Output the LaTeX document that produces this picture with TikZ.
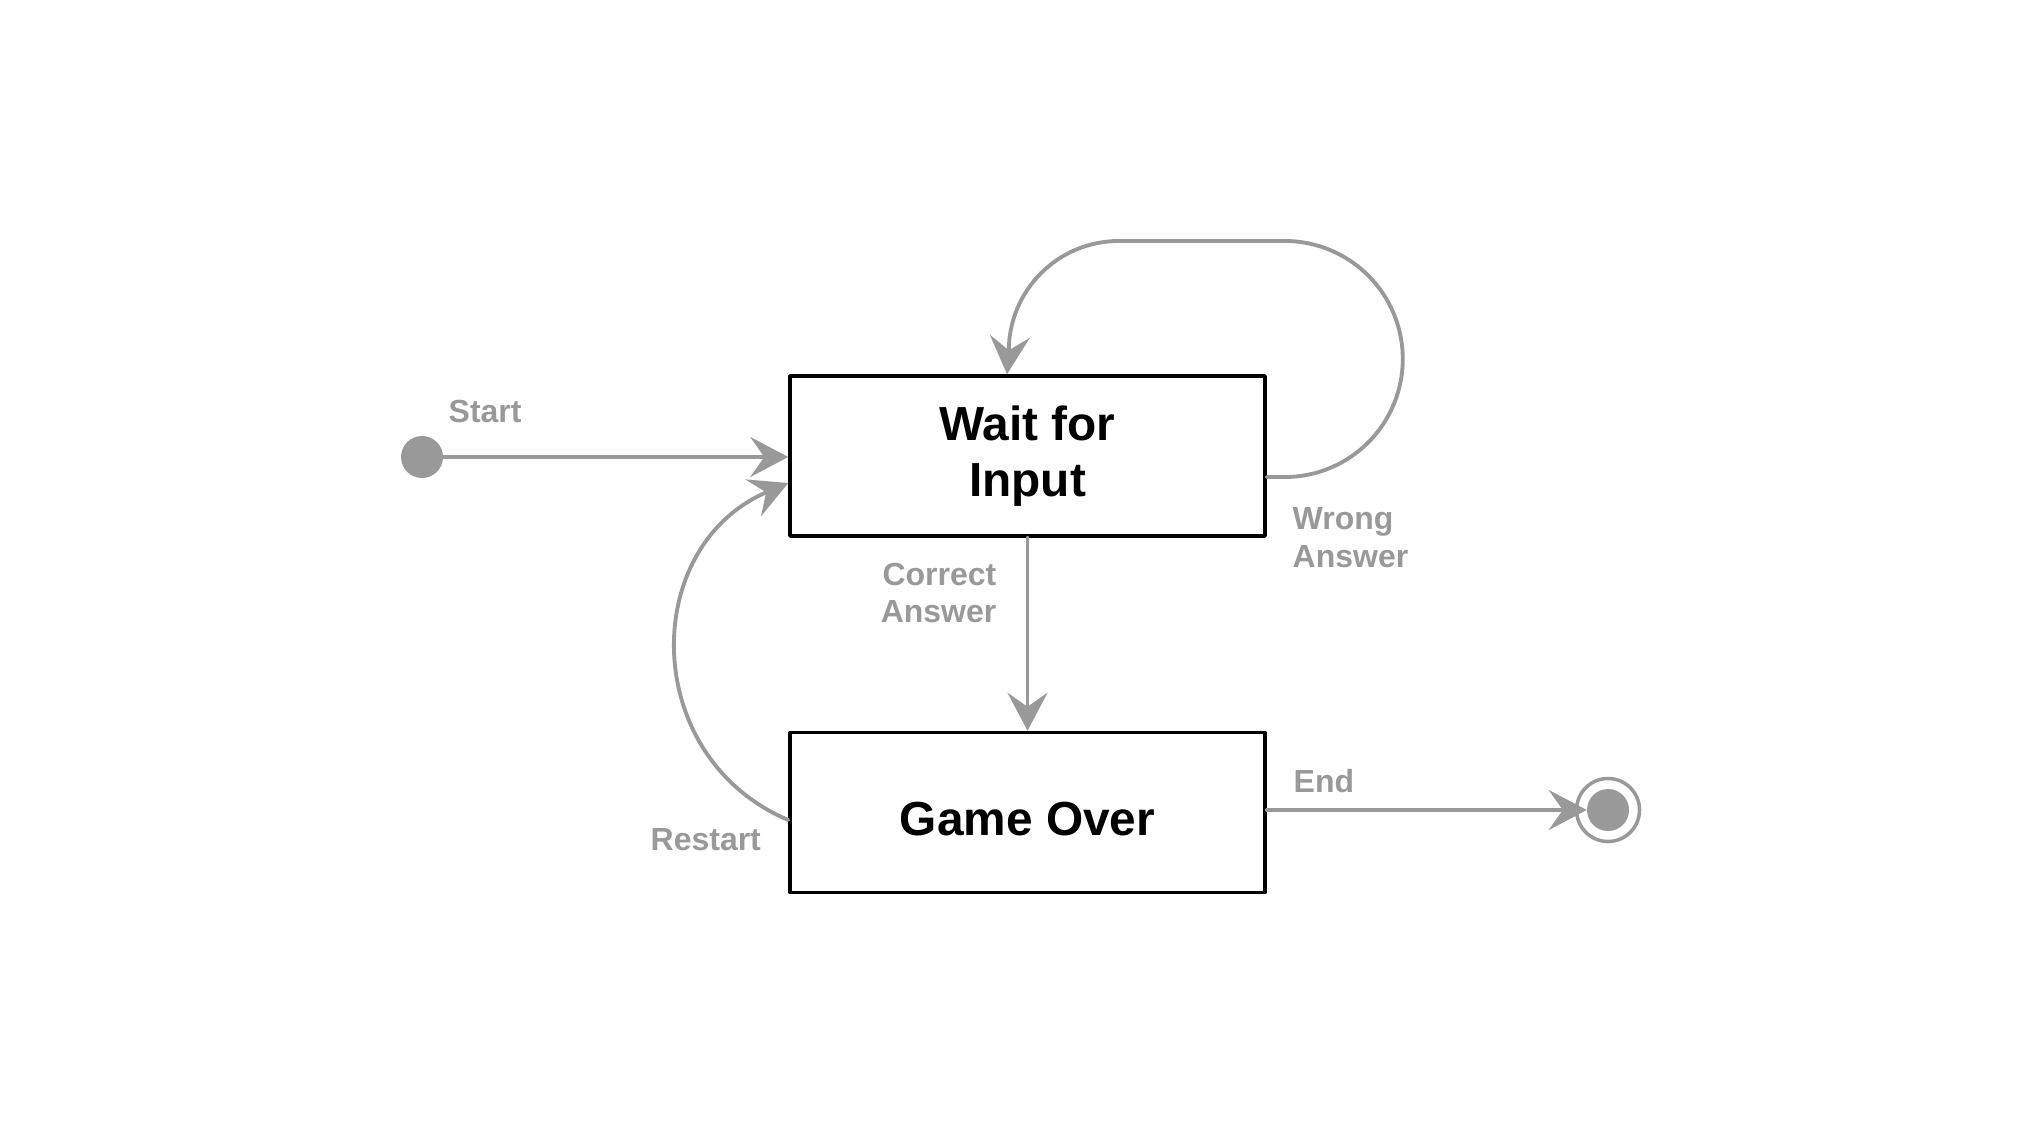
\documentclass[tikz,border=0pt]{standalone}
\usepackage{fontspec}
\setmainfont{Liberation Sans}
\usetikzlibrary{arrows.meta}
\definecolor{edgegray}{RGB}{153,153,153}

\begin{document}
\begin{tikzpicture}[line cap=round,line join=round,>={Stealth[length=0.38cm,width=0.40cm,inset=0.14cm]},x=1cm,y=1cm,
  state/.style={draw,line width=1pt,minimum width=4.75cm,minimum height=1.6cm,align=center,font=\fontsize{13.6}{15.9}\selectfont\bfseries},
  flow/.style={->,draw=edgegray,line width=1.1pt},
  lbl/.style={inner sep=0pt,text=edgegray,font=\fontsize{9.1}{10.8}\selectfont\bfseries}]
\useasboundingbox (0,0) rectangle (20.42,-11.35);
\node [state] (wait) at (10.275,-4.56) {Wait for\\Input};
\node [state,text height=0.47cm,text depth=0.01cm] (over) at (10.275,-8.125) {Game Over};
\node [circle,fill=edgegray,inner sep=0pt,minimum size=0.42cm] (init) at (4.22,-4.57) {};
\node [circle,draw=edgegray,line width=1pt,inner sep=0pt,minimum size=0.63cm] (final) at (16.08,-8.10) {};
\node [circle,fill=edgegray,inner sep=0pt,minimum size=0.42cm] (finaldot) at (final) {};
% anchor points for the bent edges
\coordinate (wrongout) at ([yshift=-0.21cm]wait.east);
\coordinate (wrongin) at ([xshift=-0.205cm]wait.north);
\coordinate (restartout) at ([yshift=-0.075cm]over.west);
\coordinate (restartin) at ([yshift=-0.27cm]wait.west);
\draw [flow] (init) -- (init -| wait.west);
\draw [flow] (wait) -- (over);
\draw [flow,shorten >=-0.12cm] (over.east |- final) -- (final);
\draw [flow] (wrongout) -- ++(0.18,0) arc[start angle=-90,end angle=90,radius=1.18] -- ++(-1.66,0) arc[start angle=90,end angle=180,radius=1.1] -- (wrongin);
\draw [flow] (restartout) to[out=157,in=203,looseness=1.23] (restartin);
\node [lbl,anchor=base west] (startlbl) at (4.48,-4.22) {Start};
\node [lbl,anchor=base west] (endlbl) at (12.93,-7.92) {End};
\node [lbl,anchor=base west] (restartlbl) at (6.50,-8.50) {Restart};
\node [lbl,align=right,anchor=north east] (correctlbl) at (9.97,-5.62) {Correct\\Answer};
\node [lbl,align=left,anchor=north west] (wronglbl) at (12.92,-5.07) {Wrong\\Answer};
\end{tikzpicture}
\end{document}
